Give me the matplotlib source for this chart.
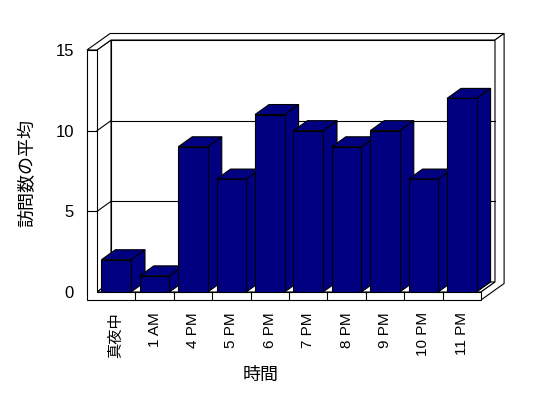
import matplotlib.pyplot as plt
from matplotlib.patches import Polygon

plt.rcParams['font.family'] = ['Liberation Sans', 'Noto Sans CJK JP']

# データ
hours = ['真夜中', '1 AM', '4 PM', '5 PM', '6 PM', '7 PM', '8 PM', '9 PM', '10 PM', '11 PM']
visits = [2, 1, 9, 7, 11, 10, 9, 10, 7, 12]
yticks = [0, 5, 10, 15]

navy = '#000080'
lw = 0.8

fig = plt.figure(figsize=(5.48, 3.98), dpi=100)
# front plane of the 3D box: x 97..481 px, y 292 (0) .. 50 (15)
ax = fig.add_axes([97 / 548, 1 - 292 / 398, 384 / 548, 242 / 398])
n = len(hours)
x0, x1 = -0.5, n - 0.5
ymax = 15
ax.set_xlim(x0, x1)
ax.set_ylim(0, ymax)

# depth offset (14px right, 10px up) in data units
DX = 14 / (384 / n)
DY = 10 / (242 / ymax)
BACK = 1.65          # back of the wall slabs
WT = 10 / (384 / n)  # left wall thickness
FT = 8 / (242 / ymax)  # floor thickness


def poly(pts, z, fc='white'):
    ax.add_patch(Polygon(pts, closed=True, facecolor=fc, edgecolor='black',
                         lw=lw, zorder=z, clip_on=False))


def line(xs, ys, z=1.5):
    ax.plot(xs, ys, color='black', lw=lw, zorder=z, clip_on=False)


# back wall
poly([(x0 + DX, DY), (x1 + DX, DY), (x1 + DX, ymax + DY), (x0 + DX, ymax + DY)], 1)
# left wall inner face
poly([(x0, 0), (x0 + DX, DY), (x0 + DX, ymax + DY), (x0, ymax)], 1)
# floor top
poly([(x0, 0), (x1, 0), (x1 + DX, DY), (x0 + DX, DY)], 1)
# top of walls
poly([(x0 - WT, ymax), (x0 - WT + BACK * DX, ymax + BACK * DY),
      (x1 + BACK * DX, ymax + BACK * DY), (x1 + DX, ymax + DY),
      (x0 + DX, ymax + DY), (x0, ymax)], 1)
# right side of back wall + floor
poly([(x1, 0), (x1, -FT), (x1 + BACK * DX, -FT + BACK * DY),
      (x1 + BACK * DX, ymax + BACK * DY), (x1 + DX, ymax + DY), (x1 + DX, DY)], 1)
# front L shape (left wall front + floor front)
poly([(x0 - WT, ymax), (x0, ymax), (x0, 0), (x1, 0), (x1, -FT), (x0 - WT, -FT)], 1)

# gridlines
for v in yticks[1:-1]:
    line([x0 + DX, x1 + DX], [v + DY, v + DY])
    line([x0, x0 + DX], [v, v + DY])
    line([x0 - WT, x0], [v, v])
for k in range(1, n):
    line([k - 0.5, k - 0.5], [0, -FT])

# bars
w = 0.77
for i, h in enumerate(visits):
    a, b = i - w / 2, i + w / 2
    z = 3 + i * 0.1
    poly([(b, 0), (b + DX, DY), (b + DX, h + DY), (b, h)], z, navy)
    poly([(a, h), (b, h), (b + DX, h + DY), (a + DX, h + DY)], z, navy)
    ax.bar(i, h, width=w, color=navy, edgecolor='black', lw=lw, zorder=z + 0.05)

for s in ax.spines.values():
    s.set_visible(False)
ax.set_yticks(yticks)
ax.set_yticklabels([str(v) for v in yticks], fontsize=12)
ax.set_xticks(range(n))
ax.set_xticklabels(hours, rotation=90, fontsize=11)
ax.tick_params(axis='y', length=0, pad=16.5)
ax.tick_params(axis='x', length=0, pad=14.5)

fig.text(28 / 548, 1 - 173 / 398, '訪問数の平均', rotation=90, ha='center', va='center', fontsize=13)
fig.text(261 / 548, 1 - 375 / 398, '時間', ha='center', va='center', fontsize=13)

fig.savefig('out.png', dpi=100)
